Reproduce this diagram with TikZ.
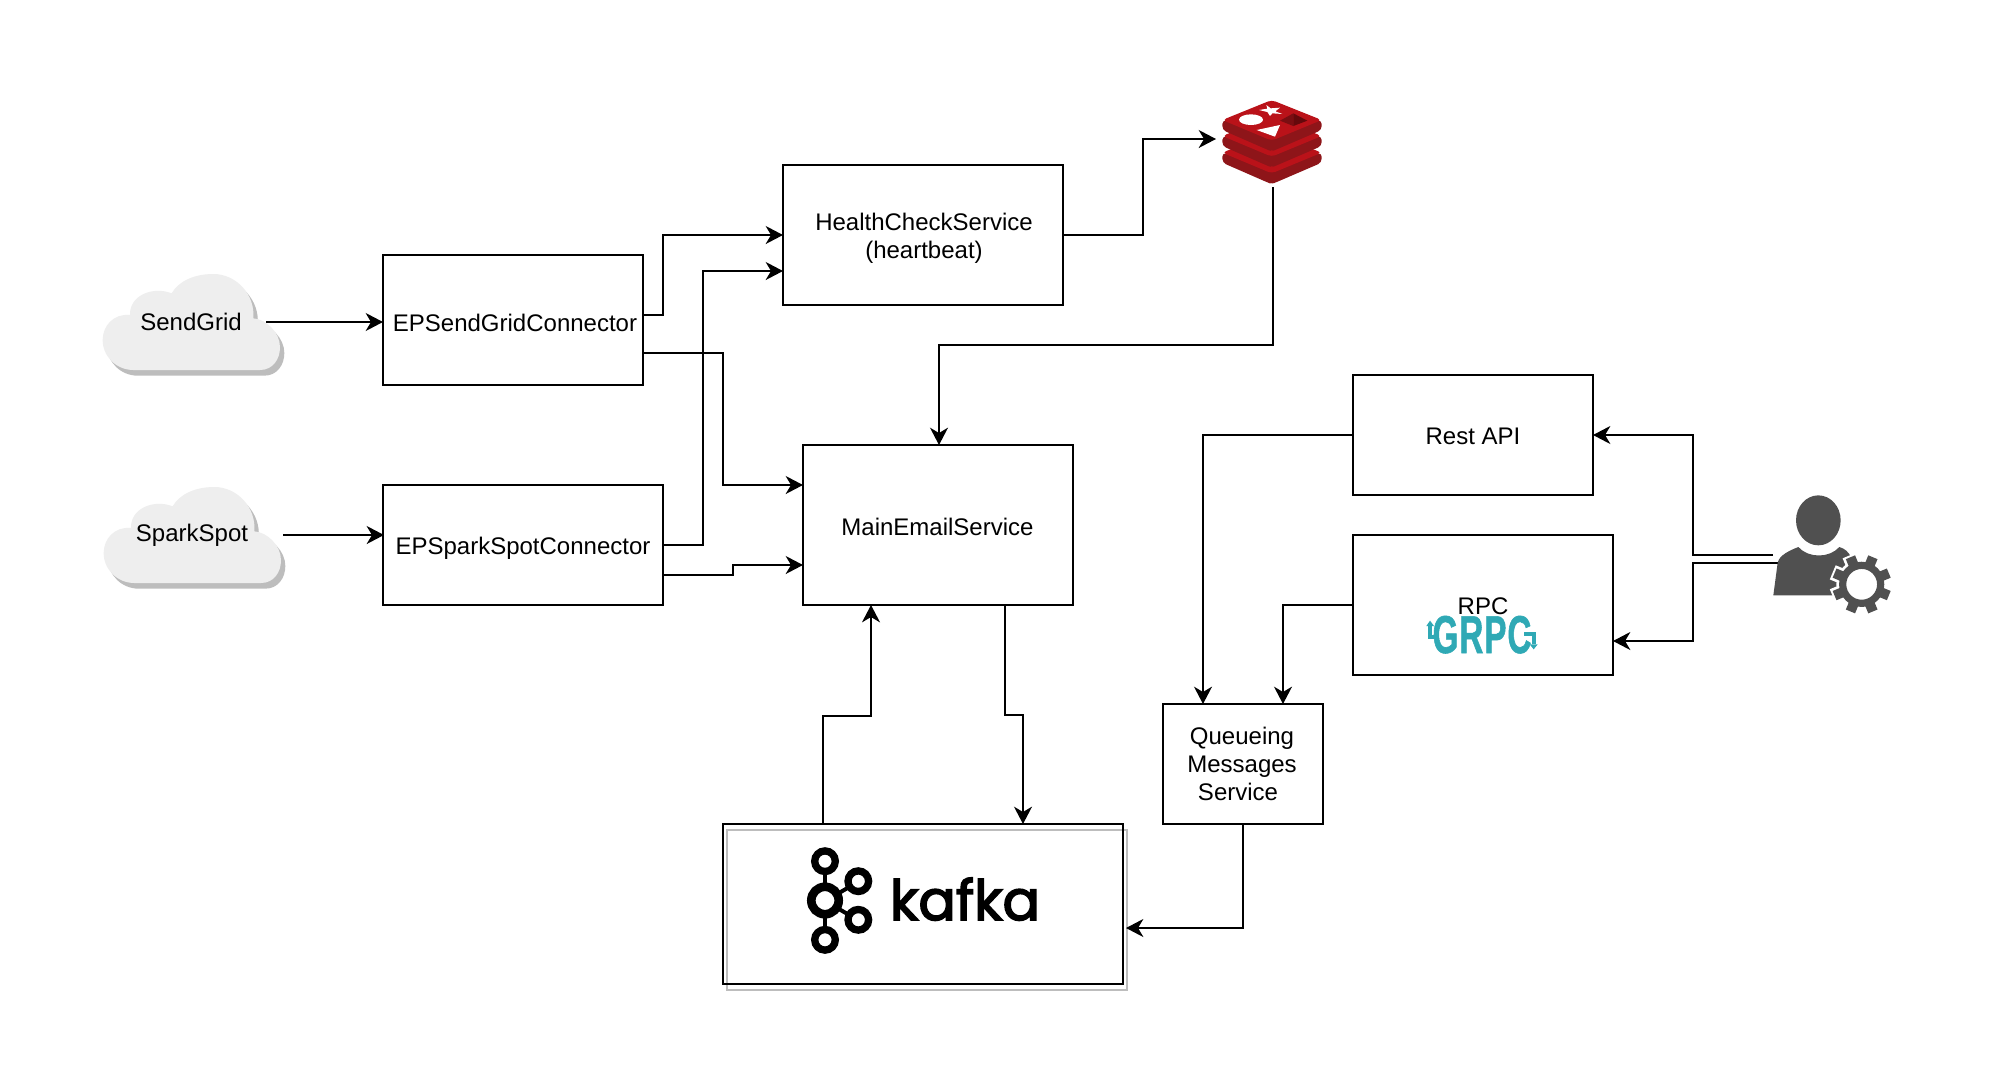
\documentclass[tikz,border=0pt]{standalone}
\usepackage{fontspec}
\setmainfont{Liberation Sans}
\newfontfamily\kafkafont[FakeBold=3]{Poppins}
\newfontfamily\grpcfont[FakeStretch=0.62,FakeBold=1,LetterSpace=2]{Liberation Sans}
\usetikzlibrary{arrows.meta,calc}
\definecolor{cloudfill}{HTML}{EEEEEE}
\definecolor{cloudshade}{HTML}{BDBDBD}
\definecolor{redisbright}{HTML}{BA1219}
\definecolor{redisdark}{HTML}{8E1519}
\definecolor{redisfacetA}{HTML}{7A0E12}
\definecolor{redisfacetB}{HTML}{65090C}
\definecolor{userfill}{HTML}{505050}
\definecolor{grpcteal}{HTML}{2FA9B5}
\tikzset{
  x=0.75pt,y=-0.75pt,
  box/.style={draw=black,line width=1.5pt,rectangle,inner sep=0pt,outer sep=0pt,align=center,
    font=\fontsize{18}{21}\selectfont},
  label/.style={inner sep=0pt,outer sep=0pt,align=center,font=\fontsize{18}{21}\selectfont},
  conn/.style={draw=black,line width=1.5pt,line join=miter,
    -{Stealth[length=13pt,width=13.5pt,inset=4pt]}},
}
\newcommand{\cloudshape}{
  (130,330) -- (510,330)
  .. controls (548,330) and (570,298) .. (570,262)
  .. controls (570,218) and (530,178) .. (490,175)
  .. controls (496,105) and (440,42) .. (370,42)
  .. controls (310,42) and (265,65) .. (245,100)
  .. controls (190,78) and (118,105) .. (120,165)
  .. controls (70,160) and (38,198) .. (38,240)
  .. controls (38,290) and (80,330) .. (130,330) -- cycle}
\begin{document}
\begin{tikzpicture}
\useasboundingbox (0,0) rectangle (1992,1090);
\fill[white] (0,0) rectangle (1992,1090);

% clouds
\begin{scope}[shift={(90,260)},scale=1/3]
  \fill[cloudshade,shift={(13,17)}] \cloudshape;
  \fill[cloudfill] \cloudshape;
\end{scope}
\begin{scope}[shift={(91,473)},scale=1/3]
  \fill[cloudshade,shift={(13,17)}] \cloudshape;
  \fill[cloudfill] \cloudshape;
\end{scope}
\node[label] (sendgrid) at (191,322) {SendGrid};
\node[label] (sparkspot) at (192,535) {SparkSpot};
\coordinate (sendgridout) at (266,322);
\coordinate (sparkspotout) at (283,535);

% kafka frame
\draw[cloudshade,line width=1.5pt] (727,830) rectangle (1127,990);

% boxes
\node[box,minimum width=260*0.75pt,minimum height=130*0.75pt] (sg) at (513,320) {};
\node[label] (sglabel) at (515,322.5) {EPSendGridConnector};
\node[box,minimum width=280*0.75pt,minimum height=120*0.75pt] (sp) at (523,545) {};
\node[label] (splabel) at (523,548) {EPSparkSpotConnector};
\node[box,minimum width=280*0.75pt,minimum height=140*0.75pt] (hc) at (923,235) {};
\node[label] (hclabel) at (924,238.5) {HealthCheckService\\(heartbeat)};
\node[box,minimum width=270*0.75pt,minimum height=160*0.75pt] (me) at (938,525) {};
\node[label] (melabel) at (937.5,527) {MainEmailService};
\node[box,minimum width=240*0.75pt,minimum height=120*0.75pt] (rest) at (1473,435) {};
\node[label] (restlabel) at (1473,436) {Rest API};
\node[box,minimum width=260*0.75pt,minimum height=140*0.75pt] (rpc) at (1483,605) {};
\node[label] (rpclabel) at (1483,606) {RPC};
\node[box,minimum width=160*0.75pt,minimum height=120*0.75pt] (q) at (1243,764) {};
\node[label] (qlabel) at (1242,764) {Queueing\\Messages\\Service\hspace*{6pt}};
\node[box,minimum width=400*0.75pt,minimum height=160*0.75pt] (kafka) at (923,904) {};

% kafka logo
\begin{scope}[black]
  \draw[line width=3pt] (825,861) -- (825,941);
  \draw[line width=3pt] (825,901) -- (858,882);
  \draw[line width=3pt] (825,901) -- (858,920);
  \foreach \cx/\cy in {825/861.2,858.3/881.2,858.3/919.8,825/939.8}{
    \draw[line width=5.5pt,fill=white] (\cx,\cy) circle (10.3);
  }
  \draw[line width=6.5pt,fill=white] (825,900.5) circle (13.7);
\end{scope}
\node[inner sep=0pt,outer sep=0pt,anchor=base west,font=\kafkafont\fontsize{41.5}{41}\selectfont] (kafkaword) at (890,920) {kafka};

% grpc logo
\node[inner sep=0pt,outer sep=0pt,text=grpcteal,anchor=base,font=\grpcfont\bfseries\fontsize{40}{40}\selectfont] (grpcword) at (1482,653) {GRPC};
\begin{scope}[shift={(1400,581)},scale=1/3]
  \draw[grpcteal,line width=3pt] (118,168) -- (90,168) -- (90,135);
  \fill[grpcteal] (79,135) -- (90,119) -- (102,135) -- cycle;
  \draw[grpcteal,line width=3pt] (372,158) -- (401,158) -- (401,190);
  \fill[grpcteal] (389,190) -- (401,205) -- (413,190) -- cycle;
\end{scope}

% redis logo
\begin{scope}[shift={(1180,80)},scale=1/3,line join=round]
  \foreach \dy in {98,48,0}{
    \fill[redisdark,rounded corners=3pt] (127,120+\dy) -- (127,150+\dy) -- (262,209+\dy) -- (275,214+\dy) -- (288,209+\dy) -- (425,150+\dy) -- (425,120+\dy) -- (275,150+\dy) -- cycle;
    \fill[redisbright,rounded corners=3pt] (275,60+\dy) -- (425,120+\dy) -- (275,182+\dy) -- (127,120+\dy) -- cycle;
  }
  \fill[white] (213,119) ellipse [x radius=36,y radius=16];
  \fill[white] (259,75) -- (272,85) -- (300,83) -- (286,94) -- (307,102) -- (277,100) -- (270,108) -- (262,96) -- (237,90) -- (262,86) -- cycle;
  \fill[white] (230,150) -- (300,135) -- (285,170) -- cycle;
  \fill[redisfacetA] (300,122) -- (340,100) -- (340,138) -- cycle;
  \fill[redisfacetB] (340,100) -- (382,122) -- (340,138) -- cycle;
\end{scope}
\coordinate (redisin) at (1216,139);
\coordinate (redisout) at (1273,187);

% connectors
\draw[conn] (sendgridout) -- (sg.west |- sendgridout);
\draw[conn] (sparkspotout) -- ($(sp.west |- sparkspotout)+(1,0)$);
\draw[conn] ($(sg.east)+(0,-5)$) -- ++(20,0) |- (hc.west);
\draw[conn] (sp.east) -- ++(40,0) |- ($(hc.west)+(0,36)$);
\draw[conn] ($(sg.east)+(0,33)$) -- ++(80,0) |- ($(me.west)+(0,-40)$);
\draw[conn] ($(sp.east)+(0,30)$) -- ++(70,0) |- ($(me.west)+(0,40)$);
\draw[conn] (hc.east) -- ++(80,0) |- (redisin);
\draw[conn] (redisout) -- ++(0,158) -| ($(me.north)+(1,0)$);
\draw[conn] ($(kafka.north)+(-100,0)$) -- ++(0,-108.5) -| ($(me.south)+(-67,0)$);
\draw[conn] ($(me.south)+(67,0)$) -- ++(0,110) -| ($(kafka.north)+(100,0)$);
\draw[conn] (q.south) |- ($(kafka.east)+(3,24)$);
\draw[conn] (rest.west) -| ($(q.north)+(-40,0)$);
\draw[conn] (rpc.west) -| ($(q.north)+(40,0)$);

% user icon
\coordinate (usera) at (1773,555);
\coordinate (userb) at (1778,563);
\draw[conn] (usera) -- ++(-80,0) |- (rest.east);
\draw[conn] (userb) -- ++(-85,0) |- ($(rpc.east)+(0,36)$);
\begin{scope}[shift={(1740,481)},scale=1/3]
  \fill[userfill] (235,118) ellipse [x radius=67,y radius=75];
  \fill[userfill] (100,343) -- (113,245) .. controls (118,222) and (150,208) .. (175,198)
     .. controls (205,232) and (268,232) .. (298,198) .. controls (330,208) and (345,230) .. (350,343) -- cycle;
  % white halo round the gear
  \fill[white] (365,310) circle (76);
  \foreach \a in {22.5,67.5,...,337.5}{
    \draw[white,line width=11.5pt] (365,310) -- ++(\a:94);
  }
  \fill[white] (300,343) rectangle (350,420);
  % gear
  \draw[userfill,line width=5.4pt] (365,310) circle (57);
  \foreach \a in {22.5,67.5,...,337.5}{
    \draw[userfill,line width=7.5pt] ($(365,310)+(\a:60)$) -- ($(365,310)+(\a:88)$);
  }
\end{scope}
\end{tikzpicture}
\end{document}
